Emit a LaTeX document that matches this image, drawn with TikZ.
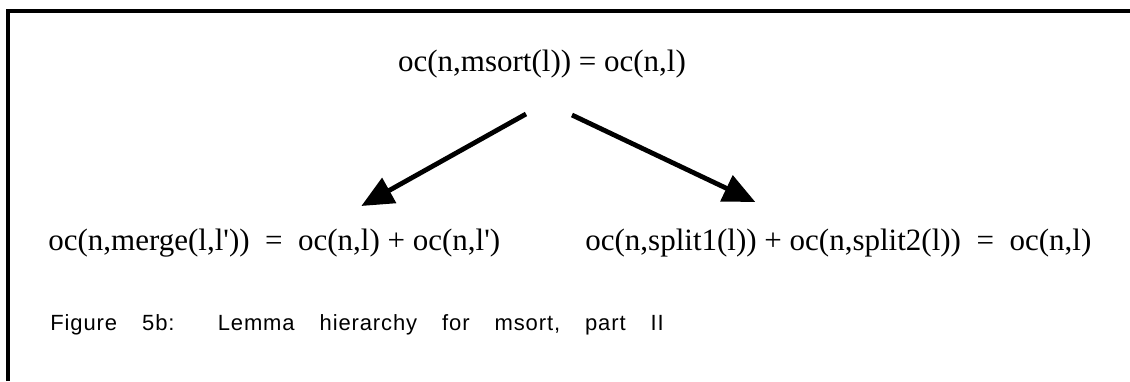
\documentclass[tikz,border=0pt]{standalone}
\usepackage{fontspec}
\setmainfont{Liberation Serif}
\newfontfamily\capfont{Liberation Sans}[LetterSpace=4]
\usetikzlibrary{arrows.meta, positioning}
\newcommand{\lp}{\textquotesingle}

\begin{document}
\begin{tikzpicture}[x=0.5pt, y=-0.5pt,
    lema/.style={inner sep=0pt, anchor=base west, font=\fontsize{15.5}{18}\selectfont},
    flecha/.style={line width=2.4pt, -{Triangle[length=16pt, width=14pt]}}]
  \useasboundingbox (0,0) rectangle (1130,381);
  % Marco
  \draw[line width=1.8pt] (8,381) -- (8,11) -- (1130,11);
  % Lemas
  \node[lema, anchor=base] (msort) at (542,71) {oc(n,msort(l)) = oc(n,l)};
  \node[lema] (merge) at (48,250) {oc(n,merge(l,l\lp))\ \ =\ \ oc(n,l) + oc(n,l\lp)};
  \node[lema] (split) at (585,250) {oc(n,split1(l)) + oc(n,split2(l))\ \ =\ \ oc(n,l)};
  % Flechas
  \draw[flecha] ([shift={(-16,43)}]msort.base) -- ([shift={(87,-44)}]merge.base);
  \draw[flecha] ([shift={(30,44)}]msort.base) -- ([shift={(-83,-48)}]split.base);
  % Pie de figura
  \node[inner sep=0pt, anchor=base west, font=\capfont\fontsize{11}{13}\selectfont] (pie) at (50,330)
    {\spaceskip=12.5pt Figure 5b:\hspace{8pt} Lemma hierarchy for msort, part II};
\end{tikzpicture}
\end{document}
